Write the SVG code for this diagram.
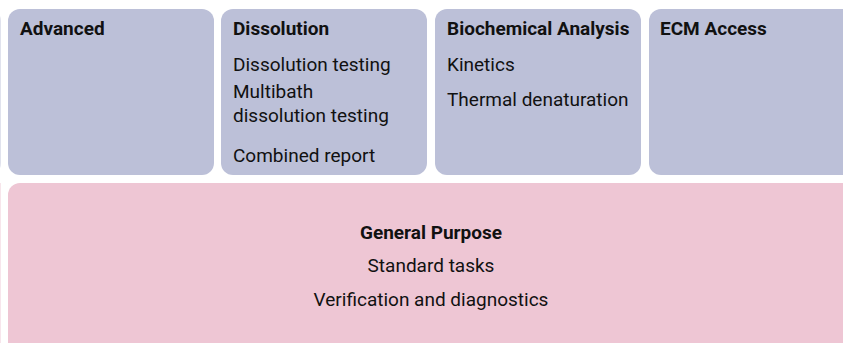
<svg xmlns="http://www.w3.org/2000/svg" width="844" height="343" viewBox="0 0 844 343">
  <style>
    .box { fill: #bcc0d8; }
    .pink { fill: #eec6d4; }
    text { font-family: Roboto, "Liberation Sans", sans-serif; font-size: 19px; fill: #111111; }
    .h { font-weight: bold; }
    .c { text-anchor: middle; }
  </style>
  <rect width="844" height="343" fill="#ffffff"/>
  <g id="edge-fragments" opacity="0.45">
    <path class="box" d="M-20 9 H-11 A12 12 0 0 1 1 21 V163 A12 12 0 0 1 -11 175 H-20 Z"/>
    <path class="pink" d="M-20 183 H1 V343 H-20 Z"/>
  </g>
  <g id="node-advanced">
    <rect class="box" x="8" y="9" width="206" height="166" rx="12"/>
    <text class="h" x="20" y="35">Advanced</text>
  </g>
  <g id="node-dissolution">
    <rect class="box" x="221" y="9" width="206" height="166" rx="12"/>
    <text class="h" x="233" y="35">Dissolution</text>
    <text x="233" y="71">Dissolution testing</text>
    <text x="233" y="98">Multibath</text>
    <text x="233" y="122">dissolution testing</text>
    <text x="233" y="162">Combined report</text>
  </g>
  <g id="node-biochemical">
    <rect class="box" x="435" y="9" width="206" height="166" rx="12"/>
    <text class="h" x="447" y="35">Biochemical Analysis</text>
    <text x="447" y="71">Kinetics</text>
    <text x="447" y="106">Thermal denaturation</text>
  </g>
  <g id="node-ecm">
    <path class="box" d="M661 9 H843 V175 H661 A12 12 0 0 1 649 163 V21 A12 12 0 0 1 661 9 Z"/>
    <text class="h" x="660" y="35">ECM Access</text>
  </g>
  <g id="node-general">
    <path class="pink" d="M20 183 H843 V355 H20 A12 12 0 0 1 8 343 V195 A12 12 0 0 1 20 183 Z"/>
    <text class="h c" x="431" y="239">General Purpose</text>
    <text class="c" x="431" y="272">Standard tasks</text>
    <text class="c" x="431" y="306">Verification and diagnostics</text>
  </g>
  <g id="connectors"></g>
</svg>
